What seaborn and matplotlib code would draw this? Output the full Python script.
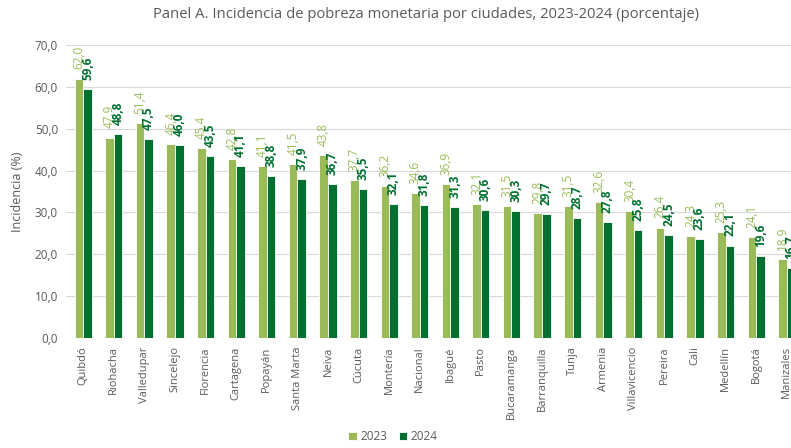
import matplotlib
matplotlib.use("Agg")
import matplotlib.pyplot as plt
import seaborn as sns
import pandas as pd

ciudades = ["Quibdó", "Riohacha", "Valledupar", "Sincelejo", "Florencia", "Cartagena",
            "Popayán", "Santa Marta", "Neiva", "Cúcuta", "Montería", "Nacional",
            "Ibagué", "Pasto", "Bucaramanga", "Barranquilla", "Tunja", "Armenia",
            "Villavicencio", "Pereira", "Cali", "Medellín", "Bogotá", "Manizales"]
pobreza_2023 = [62.0, 47.9, 51.4, 46.4, 45.4, 42.8, 41.1, 41.5, 43.8, 37.7, 36.2, 34.6,
                36.9, 32.1, 31.5, 29.8, 31.5, 32.6, 30.4, 26.4, 24.3, 25.3, 24.1, 18.9]
pobreza_2024 = [59.6, 48.8, 47.5, 46.0, 43.5, 41.1, 38.8, 37.9, 36.7, 35.5, 32.1, 31.8,
                31.3, 30.6, 30.3, 29.7, 28.7, 27.8, 25.8, 24.5, 23.6, 22.1, 19.6, 16.7]
anios = ["2023", "2024"]
colores = ["#9bbb59", "#00702f"]

df = pd.DataFrame({
    "ciudad": ciudades * 2,
    "anio": [anios[0]] * len(ciudades) + [anios[1]] * len(ciudades),
    "valor": pobreza_2023 + pobreza_2024,
})

sns.set_style("white")
plt.rcParams["font.family"] = ["Open Sans", "DejaVu Sans"]
gris = "#595959"

fig = plt.figure(figsize=(7.91, 4.48), dpi=100)
ax = fig.add_axes([0.084, 0.2455, 0.916, 0.654])

sns.barplot(data=df, x="ciudad", y="valor", hue="anio", palette=colores,
            saturation=1, width=0.56, gap=0.0, edgecolor="white", linewidth=0.6,
            ax=ax, legend=True)

for cont, col, peso in zip(ax.containers, colores, ["normal", "bold"]):
    etiquetas = [f"{b.get_height():.1f}".replace(".", ",") for b in cont]
    ax.bar_label(cont, labels=etiquetas, rotation=90, padding=6.5, fontsize=8.5,
                 color=col, fontweight=peso, clip_on=False)

ax.set_ylim(0, 70)
ax.set_xlim(-0.55, 23.14)
ax.set_yticks(range(0, 71, 10))
ax.set_yticklabels([f"{v:.1f}".replace(".", ",") for v in range(0, 71, 10)],
                   fontsize=8.5, color=gris)
ax.tick_params(axis="x", rotation=90, labelsize=8, labelcolor=gris, length=0, pad=6)
ax.tick_params(axis="y", length=0, pad=6)
ax.yaxis.grid(True, color="#d9d9d9", linewidth=0.8)
ax.set_axisbelow(True)
for s in ax.spines.values():
    s.set_visible(False)
ax.set_xlabel("")
ax.set_ylabel("Incidencia (%)", fontsize=9, color=gris, labelpad=8)

fig.suptitle("Panel A. Incidencia de pobreza monetaria por ciudades, 2023-2024 (porcentaje)",
             x=0.538, y=0.985, fontsize=10.6, color=gris)

handles, labels = ax.get_legend_handles_labels()
ax.get_legend().remove()
fig.legend(handles, labels, loc="center", bbox_to_anchor=(0.497, 0.025),
           ncol=2, frameon=False, fontsize=8.5, handlelength=0.7, handleheight=0.7,
           handletextpad=0.3, columnspacing=1.0, labelcolor=gris)

fig.savefig("out.png", dpi=100)
